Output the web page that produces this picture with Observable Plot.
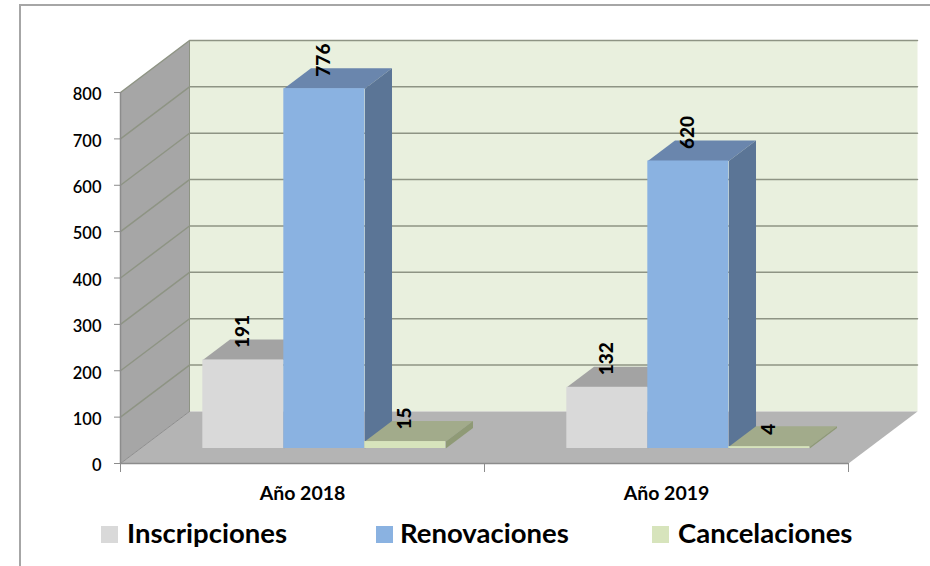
<!DOCTYPE html>
<html><head><meta charset="utf-8">
<script src="https://cdn.jsdelivr.net/npm/d3@7"></script>
<script src="https://cdn.jsdelivr.net/npm/@observablehq/plot@0.6"></script>
<style>
html,body{margin:0;padding:0;background:#fff;overflow:hidden}
#page{position:relative;width:930px;height:566px}
#frame{position:absolute;left:19px;top:4px;right:0;bottom:0;border-left:2px solid #a6a6a6;border-top:2px solid #a6a6a6;pointer-events:none}
#chart svg{display:block}
#legend{position:relative;height:56px;font:bold 27.5px Lato,sans-serif;color:#000}
#legend .sw{position:absolute;top:16px;width:17px;height:17px}
#legend .tx{position:absolute;top:7px;line-height:32px;white-space:nowrap}
</style></head><body>
<div id="page"><div id="frame"></div><div id="chart"></div><div id="legend"></div></div>
<script>
const years = ["Año 2018", "Año 2019"];
const seriesNames = ["Inscripciones", "Renovaciones", "Cancelaciones"];
const inscripciones = [191, 132];
const renovaciones = [776, 620];
const cancelaciones = [15, 4];
const yTicks = [0, 100, 200, 300, 400, 500, 600, 700, 800];

const seriesValues = [inscripciones, renovaciones, cancelaciones];
const front = ["#d9d9d9", "#8ab2e1", "#d7e4bc"];
const topFace = ["#a3a3a3", "#6a86ad", "#a2ab8b"];
const sideFace = ["#8f8f8f", "#5b7596", "#8f9a76"];

// oblique projection in data units: one category = 1 on x, depth 0..1 from front to back wall
const DX = 69 / 364, DY = 52 / 0.4635;
const P = (x, v, d) => ({x: x + d * DX, y: v + d * DY});
const poly = (pts, fill, extra = {}) => Plot.line(pts, {x: "x", y: "y", fill, stroke: "none", curve: "linear", ...extra});
const d0 = 15 / 52, d1 = 35.5 / 52, barStart = 0.1715, barW = 0.2225;

const marks = [];
// walls & floor
marks.push(poly([P(0,0,1), P(2,0,1), P(2,800,1), P(0,800,1)], "#e9f0de"));
marks.push(poly([P(0,0,0), P(0,0,1), P(0,800,1), P(0,800,0)], "#a6a6a6"));
marks.push(poly([P(0,0,0), P(2,0,0), P(2,0,1), P(0,0,1)], "#b4b4b4"));
// grid: side wall + back wall
for (const t of yTicks.slice(1)) {
  marks.push(Plot.line([P(0,t,0), P(0,t,1), P(2,t,1)], {x:"x", y:"y", stroke:"#8e9484", strokeWidth:1.5, curve:"linear"}));
}
marks.push(Plot.line([P(0,0,0), P(0,0,1)], {x:"x", y:"y", stroke:"#8e8e8e", strokeWidth:1, curve:"linear"}));
marks.push(Plot.line([P(0,0,1), P(0,800,1)], {x:"x", y:"y", stroke:"#8e9484", strokeWidth:1, curve:"linear"}));
// bars
const labels = [];
years.forEach((yr, g) => {
  seriesValues.forEach((vals, s) => {
    const v = vals[g];
    const x0 = g + barStart + s * barW, x1 = x0 + barW;
    marks.push(poly([P(x0,v,d0), P(x1,v,d0), P(x1,v,d1), P(x0,v,d1)], topFace[s]));
    marks.push(poly([P(x1,0,d0), P(x1,0,d1), P(x1,v,d1), P(x1,v,d0)], sideFace[s]));
    const a = P(x0,0,d0), b = P(x1,v,d0);
    marks.push(Plot.rect([{x1:a.x, x2:b.x, y1:a.y, y2:b.y}], {x1:"x1", x2:"x2", y1:"y1", y2:"y2", fill:front[s]}));
    labels.push({...P((x0+x1)/2, v, d0), v});
  });
});
marks.push(Plot.text(labels, {x:"x", y:"y", text:d=>String(d.v), rotate:-90, textAnchor:"start", lineAnchor:"middle", dy:-12, fontWeight:900, fontSize:19, fill:"#000"}));
// axes
marks.push(Plot.axisY(yTicks, {anchor:"left", label:null, tickSize:6, tickPadding:9, stroke:"#8c8c8c", tickFormat:()=>""}));
marks.push(Plot.text(yTicks, {x:0, y:d=>d, text:d=>String(d), textAnchor:"end", dx:-19, dy:2.5, fontWeight:600, fontSize:16.5, fill:"#000"}));
marks.push(Plot.ruleX([0], {y1:0, y2:800, stroke:"#8c8c8c", strokeWidth:1.5}));
marks.push(Plot.ruleY([0], {x1:0, x2:2, stroke:"#8c8c8c", strokeWidth:1.5}));
marks.push(Plot.axisX([0,1,2], {anchor:"bottom", label:null, tickSize:9, stroke:"#8c8c8c", tickFormat:()=>""}));
marks.push(Plot.axisX([0.5,1.5], {anchor:"bottom", label:null, tickSize:0, tickPadding:23, fill:"#000", fontWeight:"bold", fontSize:19.5, tickFormat:d=>years[Math.floor(d)]}));

const plot = Plot.plot({
  width: 930, height: 510,
  marginLeft: 120, marginRight: 13, marginTop: 40, marginBottom: 47,
  x: {domain: [0, 2 + DX], axis: null},
  y: {domain: [0, 800 + DY], axis: null},
  style: {background: "transparent", fontFamily: "Lato, sans-serif"},
  marks
});
document.getElementById("chart").append(plot);

const swX = [101, 376, 652], txX = [127, 400, 678];
const lg = document.getElementById("legend");
seriesNames.forEach((n, i) => {
  const sw = document.createElement("div"); sw.className = "sw"; sw.style.left = swX[i] + "px"; sw.style.background = front[i];
  const tx = document.createElement("div"); tx.className = "tx"; tx.style.left = txX[i] + "px"; tx.textContent = n;
  lg.append(sw, tx);
});
</script></body></html>
